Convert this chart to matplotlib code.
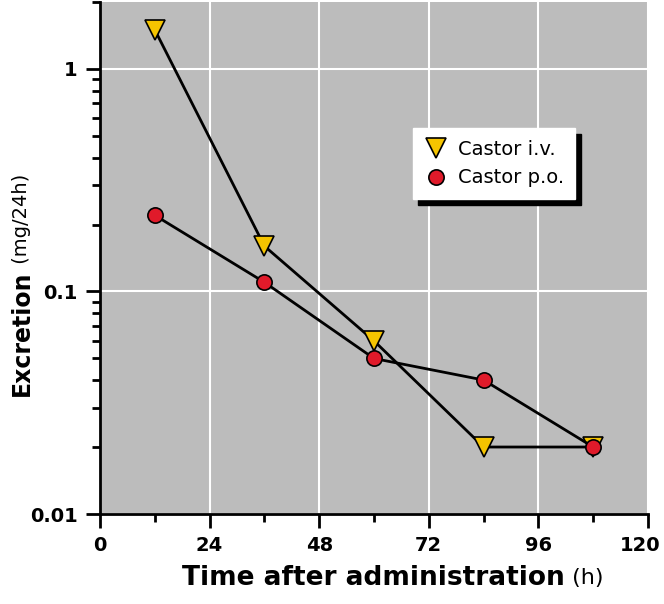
import numpy as np
import matplotlib.pyplot as plt
from matplotlib.lines import Line2D
from matplotlib.transforms import ScaledTranslation
from matplotlib.ticker import FixedLocator, LogLocator, NullFormatter

# data
hours = [12, 36, 60, 84, 108]
castor_iv = [1.5, 0.16, 0.06, 0.02, 0.02]
castor_po = [0.22, 0.11, 0.05, 0.04, 0.02]
y_ticks = [0.01, 0.1, 1]
y_labels = ['0.01', '0.1', '1']
x_ticks = [0, 24, 48, 72, 96, 120]

yellow = '#f5c400'
red = '#e01a2a'

fig = plt.figure(figsize=(6.64, 6.04), dpi=100)
ax = fig.add_axes([0.1506, 0.149, 0.8253, 0.8477])
ax.set_facecolor('#bcbcbc')

ax.plot(hours, castor_iv, color='black', lw=2, marker='v', ms=15,
        mfc=yellow, mec='black', mew=1.2, zorder=3)
ax.plot(hours, castor_po, color='black', lw=2, marker='o', ms=11,
        mfc=red, mec='black', mew=1.2, zorder=3)

ax.set_yscale('log')
ax.set_ylim(0.01, 2.0)
ax.set_xlim(0, 120)

ax.set_xticks(x_ticks)
ax.xaxis.set_minor_locator(FixedLocator([12, 36, 60, 84, 108]))
ax.set_yticks(y_ticks)
ax.set_yticklabels(y_labels)
ax.yaxis.set_minor_locator(LogLocator(base=10, subs=np.arange(2, 10)))
ax.yaxis.set_minor_formatter(NullFormatter())

ax.grid(True, which='major', color='white', lw=1.5)
ax.set_axisbelow(True)

for s in ['top', 'right']:
    ax.spines[s].set_visible(False)
for s in ['left', 'bottom']:
    ax.spines[s].set_linewidth(2)

ax.tick_params(which='major', direction='out', length=10, width=2, pad=6)
ax.tick_params(which='minor', direction='out', length=6, width=2)
for lab in ax.get_xticklabels() + ax.get_yticklabels():
    lab.set_fontweight('bold')
    lab.set_fontsize(14)

# nudge the last x label in so it stays inside the image
last = ax.xaxis.get_major_ticks()[-1].label1
last.set_transform(last.get_transform() + ScaledTranslation(-0.08, 0, fig.dpi_scale_trans))

handles = [
    Line2D([], [], ls='None', marker='v', ms=15, mfc=yellow, mec='black', mew=1.2),
    Line2D([], [], ls='None', marker='o', ms=11, mfc=red, mec='black', mew=1.2),
]
leg = ax.legend(handles, ['Castor i.v.', 'Castor p.o.'], loc='upper left',
                bbox_to_anchor=(0.571, 0.754), borderaxespad=0,
                frameon=True, fancybox=False, edgecolor='white', framealpha=1,
                shadow={'color': 'black', 'alpha': 1, 'ox': 4, 'oy': -4},
                prop={'size': 14}, handletextpad=0.5, handlelength=1.2,
                borderpad=0.6, labelspacing=0.5)

# axis labels: bold word + normal unit
fig.canvas.draw()
r = fig.canvas.get_renderer()
t1 = fig.text(0, 1 - 578 / 604, 'Time after administration', fontsize=19,
              fontweight='bold', ha='left', va='center')
t2 = fig.text(0, 1 - 578 / 604, ' (h)', fontsize=16, ha='left', va='center')
w1 = t1.get_window_extent(r).width
w2 = t2.get_window_extent(r).width
cx = 393
t1.set_x((cx - (w1 + w2) / 2) / 664)
t2.set_x((cx - (w1 + w2) / 2 + w1) / 664)

y1 = fig.text(22 / 664, 0, 'Excretion', fontsize=17, fontweight='bold',
              rotation=90, ha='center', va='bottom')
y2 = fig.text(22 / 664, 0, ' (mg/24h)', fontsize=14, rotation=90,
              ha='center', va='bottom')
h1 = y1.get_window_extent(r).height
h2 = y2.get_window_extent(r).height
cy = 604 - 285
y1.set_y((cy - (h1 + h2) / 2) / 604)
y2.set_y((cy - (h1 + h2) / 2 + h1) / 604)

fig.savefig('out.png', dpi=100)
